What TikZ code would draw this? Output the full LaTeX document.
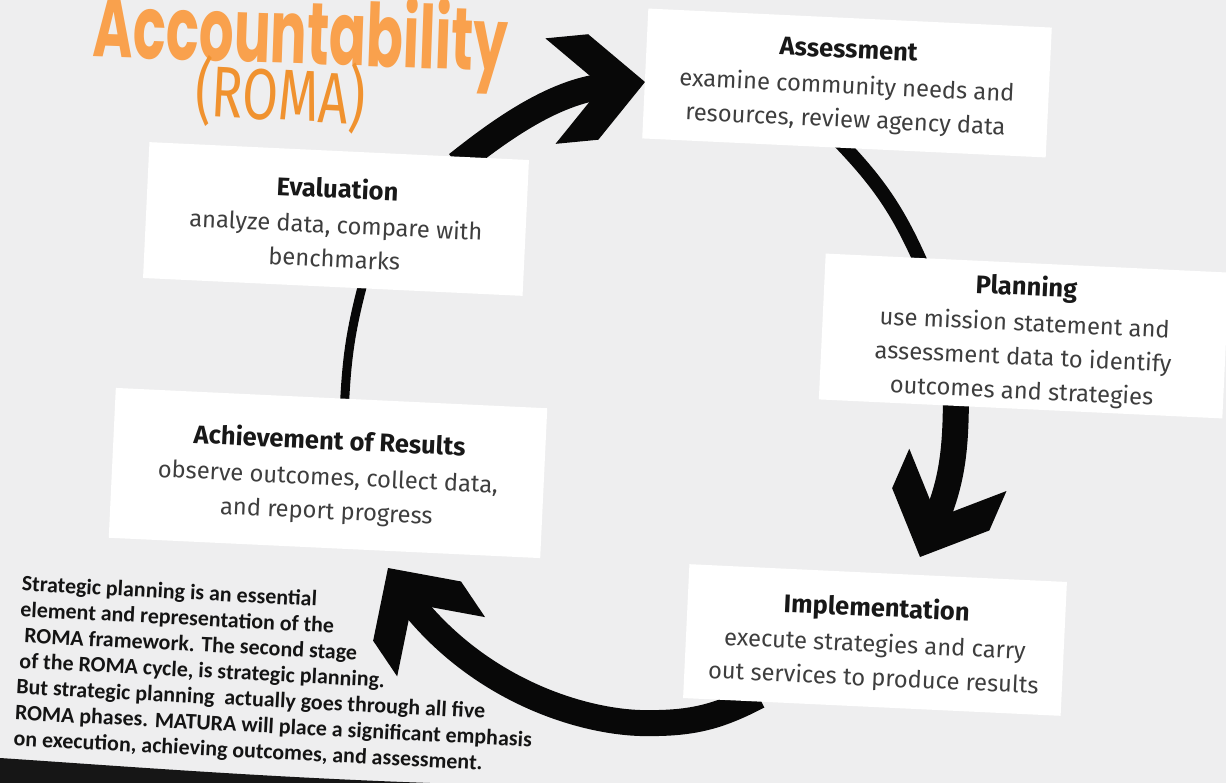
\documentclass[tikz,border=0pt]{standalone}
\usepackage{fontspec}
\usepackage{graphicx}
\setmainfont{Fira Sans}
\newfontfamily\notefont{Carlito}
\newfontfamily\displayfont{Poppins}
\usetikzlibrary{calc}
\pgfdeclarelayer{paper}
\pgfdeclarelayer{links}
\pgfsetlayers{paper,links,main}

\definecolor{paperbg}{HTML}{EEEEEF}
\definecolor{bodyink}{HTML}{3E3E3E}
\definecolor{headink}{HTML}{181818}
\definecolor{noteink}{HTML}{141414}
\definecolor{arrowink}{HTML}{080808}
\definecolor{orangeA}{HTML}{F9A14D}
\definecolor{orangeB}{HTML}{F0922F}
\definecolor{edgedark}{HTML}{161616}

\newcommand\stagetitle[1]{{\bfseries\fontsize{14.5}{19.3}\selectfont\color{headink}#1}\\[1pt]}

\tikzset{
  stagebox/.style={fill=white, rotate=-2.7, inner sep=0pt},
  stagetext/.style={rotate=-2.7, align=center, text=bodyink, inner sep=0pt,
    font=\fontsize{13.5}{19.3}\selectfont},
  shaftwide/.style={draw=arrowink, line width=0.52cm},
  shaftmid/.style={draw=arrowink, line width=0.28cm},
  shaftthin/.style={draw=arrowink, line width=0.18cm},
  chevron/.pic={\fill[arrowink] (0,0) -- (-52,-53) -- (-95,-53) -- (-43,0)
    -- (-95,53) -- (-52,53) -- cycle;}
}

\begin{document}
\begin{tikzpicture}[x=0.02cm, y=-0.02cm]
\useasboundingbox (0,0) rectangle (1226,783);

% paper and the dark edge of the sheet
\begin{pgfonlayer}{paper}
  \fill[paperbg] (0,0) rectangle (1226,783);
  \fill[edgedark] (0,758) .. controls (120,766) and (260,777) .. (430,783) -- (0,783) -- cycle;
\end{pgfonlayer}

% heading
\node[rotate=-2, anchor=base, text=orangeA, inner sep=0pt] (title) at (300,64)
  {\scalebox{0.62}[1]{\displayfont\bfseries\fontsize{50}{50}\selectfont Accountability}};
\node[rotate=-3, anchor=base, text=orangeB, inner sep=0pt] (roma) at (279,120)
  {\scalebox{0.72}[1]{\fontsize{41}{41}\selectfont (ROMA)}};

% stage boxes
\node[stagebox, minimum width=8.08cm, minimum height=2.6cm] (assess) at (847,83) {};
\node[stagetext] (assessText) at ([yshift=-0.07cm]assess.center)
  {\stagetitle{Assessment}examine community needs and\\resources, review agency data};

\node[stagebox, minimum width=8.08cm, minimum height=2.92cm] (plan) at (1024,336) {};
\node[stagetext] (planText) at ([yshift=-0.07cm]plan.center)
  {\stagetitle{Planning}use mission statement and\\assessment data to identify\\outcomes and strategies};

\node[stagebox, minimum width=7.56cm, minimum height=2.68cm] (impl) at (875,640) {};
\node[stagetext] (implText) at ([yshift=-0.07cm]impl.center)
  {\stagetitle{Implementation}execute strategies and carry\\out services to produce results};

\node[stagebox, minimum width=8.64cm, minimum height=3.0cm] (ach) at (328,473) {};
\node[stagetext] (achText) at ([yshift=-0.07cm]ach.center)
  {\stagetitle{Achievement of Results}observe outcomes, collect data,\\and report progress};

\node[stagebox, minimum width=7.6cm, minimum height=2.72cm] (eval) at (336,219) {};
\node[stagetext] (evalText) at ([yshift=-0.07cm]eval.center)
  {\stagetitle{Evaluation}analyze data, compare with\\benchmarks};

% note on strategic planning
\node[rotate=-3, anchor=north west, align=left, inner sep=0pt, text=noteink,
  font=\notefont\bfseries\fontsize{12.5}{14.7}\selectfont] (note) at (22,575)
  {Strategic planning is an essential\\
   element and representation of the\\
   \hspace*{3pt}ROMA framework. The second stage\\
   \hspace*{1pt}of the ROMA cycle, is strategic planning.\\
   But strategic planning \ actually goes through all five\\
   ROMA phases. MATURA will place a significant emphasis\\
   on execution, achieving outcomes, and assessment.};

% cycle connectors
\coordinate (tipA) at (645,82);
\coordinate (tipI) at (920,557);
\coordinate (tipR) at (388,568);
\coordinate (sag) at (640,723);

\begin{pgfonlayer}{links}
  \draw[shaftwide] ($(eval.north west)!0.81!(eval.north east)+(0,8)$)
    .. controls +(38,-30) and +(-55,5) .. ($(tipA)+(-38,4)$);
  \pic[rotate=5.5] at (tipA) {chevron};

  \draw[shaftmid] ($(assess.south west)!0.49!(assess.south east)+(0,-6)$)
    to[bend left=10] ($(plan.north west)!0.24!(plan.north east)+(0,8)$);

  \draw[shaftwide] ($(plan.south west)!0.34!(plan.south east)+(0,-8)$)
    .. controls +(0,55) and +(16,-38) .. ($(tipI)+(15,-35)$);
  \pic[rotate=-113.5] at (tipI) {chevron};

  \draw[shaftwide] ($(impl.south west)!0.2!(impl.south east)+(0,-6)$)
    .. controls +(-42,22) and +(50,1) .. (sag)
    .. controls +(-60,-2) and +(70,90) .. ($(tipR)+(21,32)$);
  \pic[rotate=124] at (tipR) {chevron};

  \draw[shaftthin] ($(ach.north west)!0.53!(ach.north east)+(0,6)$)
    to[bend left=6] ($(eval.south west)!0.58!(eval.south east)+(0,-6)$);
\end{pgfonlayer}
\end{tikzpicture}
\end{document}
